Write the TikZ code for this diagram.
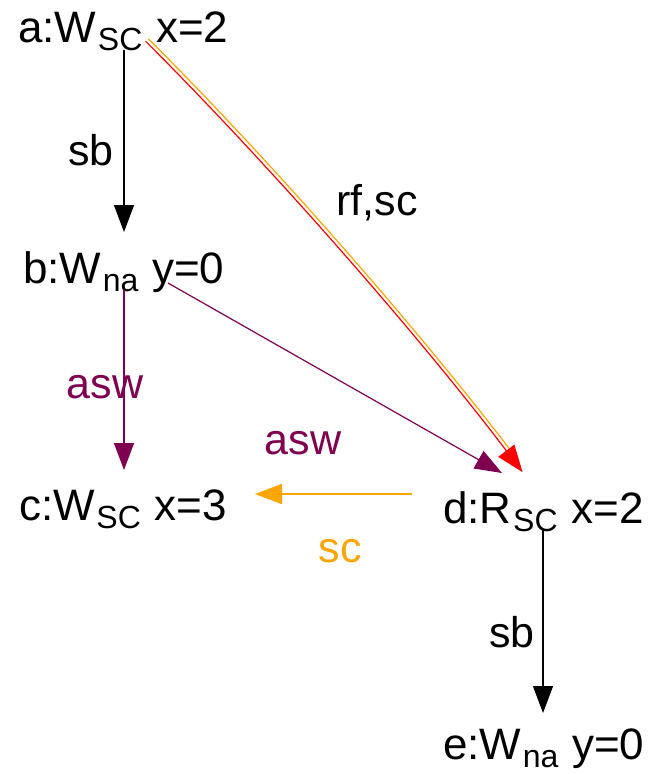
\documentclass[tikz,border=0pt]{standalone}
\usepackage{fontspec}
\setmainfont{Liberation Sans}
\usetikzlibrary{arrows.meta}
\definecolor{aswc}{RGB}{128,0,80}
\definecolor{scc}{RGB}{255,165,0}
\newcommand\lsub[1]{\hspace{1.5pt}\raisebox{-8pt}{\fontsize{32}{32}\selectfont #1}\hspace{1.5pt}}
\begin{document}
\begin{tikzpicture}[x=1pt,y=-1pt,
  txt/.style={inner sep=0pt,anchor=base west,font=\fontsize{44}{50}\selectfont},
  lbl/.style={inner sep=0pt,font=\fontsize{43}{50}\selectfont},
  arr/.style={line width=1.2pt,-{Triangle[length=27pt,width=20pt]}}]
\useasboundingbox[fill=white] (0,0) rectangle (650,774);
% nodes
\node[txt] (a) at (18,42) {a:W\lsub{SC} x=2};
\node[txt] (b) at (23,283) {b:W\lsub{na} y=0};
\node[txt] (c) at (19,520) {c:W\lsub{SC} x=3};
\node[txt] (d) at (443,523) {d:R\lsub{SC} x=2};
\node[txt] (e) at (443,759) {e:W\lsub{na} y=0};
% edges
\draw[arr,black] ([shift={(106,8)}]a.base west) -- ([shift={(101,-51)}]b.base west);
\draw[arr,aswc] ([shift={(101,7)}]b.base west) -- ([shift={(105,-50)}]c.base west);
\draw[arr,aswc] ([shift={(145,0)}]b.base west) -- ([shift={(59,-50)}]d.base west);
\draw[arr,scc,line width=1.8pt] ([shift={(-31,-29)}]d.base west) -- ([shift={(236,-26)}]c.base west);
\draw[arr,black] ([shift={(100,7)}]d.base west) -- ([shift={(100,-46)}]e.base west);
% double line a -> d
\draw[scc,line width=1.2pt,shorten >=12pt] ([shift={(130.4,-3.2)}]a.base west) .. controls +(130,130) and +(-100,-132) .. ([shift={(82.4,-53.2)}]d.base west);
\draw[arr,red] ([shift={(127.6,-0.8)}]a.base west) .. controls +(130,130) and +(-100,-132) .. ([shift={(79.6,-50.8)}]d.base west);
% labels
\node[lbl] (l1) at (91,150) {sb};
\node[lbl,text=aswc] (l2) at (105,387) {asw};
\node[lbl,text=aswc] (l3) at (303,443) {asw};
\node[lbl] (l4) at (377,203) {rf,sc};
\node[lbl,text=scc] (l5) at (340,551) {sc};
\node[lbl] (l6) at (512,632) {sb};
\end{tikzpicture}
\end{document}
